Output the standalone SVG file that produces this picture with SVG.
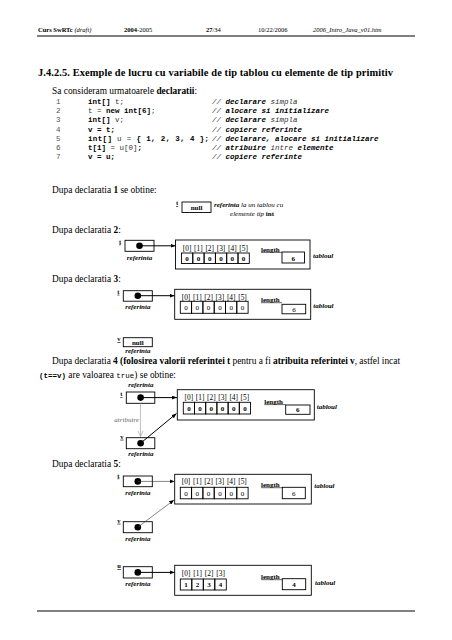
<svg xmlns="http://www.w3.org/2000/svg" width="452" height="640" viewBox="0 0 452 640">
<style>
text{font-family:"Liberation Serif","Times New Roman",serif;fill:#000}
.hd{font-size:6.5px}
.ti{font-size:10.4px;font-weight:bold}
.tx{font-size:9.4px}
.cd{font-family:"Liberation Mono","Courier New",monospace;font-size:7.5px;fill:#333}
.num{font-family:"Liberation Mono","Courier New",monospace;font-size:7.5px;fill:#555}
.b{font-weight:bold;fill:#000}
.i{font-style:italic}
.g{fill:#666}
.sm{font-size:7px}
.ix{font-size:7.4px;text-anchor:middle}
.lb{font-size:6.5px;font-weight:bold;text-decoration:underline}
.ref{font-size:7px;font-weight:bold;font-style:italic;text-anchor:middle}
.ctr{text-anchor:middle}
.box{fill:#fff;stroke:#000;stroke-width:0.9}
.cell{fill:none;stroke:#000;stroke-width:0.9}
.dot{fill:#000}
.conn{stroke:#000;stroke-width:1;fill:none}
.thin{stroke:#333;stroke-width:0.6;fill:none}
.asg{stroke:#999;stroke-width:0.6;fill:none}
</style>
<defs>
<marker id="ah" markerWidth="5" markerHeight="4" refX="5" refY="2" orient="auto" markerUnits="userSpaceOnUse">
<path d="M0,0 L5,2 L0,4 z" fill="#000"/>
</marker>
</defs>
<rect width="452" height="640" fill="#fff"/>

<g id="header">
<text class="hd" x="38" y="32"><tspan class="b">Curs SwRTc</tspan> <tspan class="i">(draft)</tspan></text>
<text class="hd" x="124" y="32"><tspan class="b">2004</tspan>-2005</text>
<text class="hd" x="206" y="32"><tspan class="b">27</tspan>/34</text>
<text class="hd" x="258" y="32">10/22/2006</text>
<text class="hd i" x="313" y="32">2006_Intro_Java_v01.htm</text>
<line x1="37" y1="36" x2="415" y2="36" stroke="#000" stroke-width="1"/>
</g>

<g id="title">
<text class="ti" x="38" y="76" textLength="355" lengthAdjust="spacing">J.4.2.5. Exemple de lucru cu variabile de tip tablou cu elemente de tip primitiv</text>
<text class="tx" x="52" y="94">Sa consideram urmatoarele <tspan class="b">declaratii</tspan>:</text>
</g>

<g id="code">
<text class="num" x="56" y="104">1</text>
<text class="num" x="56" y="113">2</text>
<text class="num" x="56" y="122">3</text>
<text class="num" x="56" y="131.5">4</text>
<text class="num" x="56" y="140.5">5</text>
<text class="num" x="56" y="149.5">6</text>
<text class="num" x="56" y="159">7</text>
<text class="cd" x="88" y="104" xml:space="preserve"><tspan class="b">int[]</tspan> t;</text>
<text class="cd" x="88" y="113" xml:space="preserve">t = <tspan class="b">new int[6]</tspan>;</text>
<text class="cd" x="88" y="122" xml:space="preserve"><tspan class="b">int[]</tspan> v;</text>
<text class="cd b" x="88" y="131.5" xml:space="preserve">v = t;</text>
<text class="cd" x="88" y="140.5" xml:space="preserve" textLength="121" lengthAdjust="spacing"><tspan class="b">int[]</tspan> u = <tspan class="b">{ 1, 2, 3, 4 };</tspan></text>
<text class="cd" x="88" y="149.5" xml:space="preserve"><tspan class="b">t[1]</tspan> = u[0]<tspan class="b">;</tspan></text>
<text class="cd b" x="88" y="159" xml:space="preserve">v = u;</text>
<text class="cd i" x="212" y="104" xml:space="preserve">// <tspan class="b">declarare</tspan> simpla</text>
<text class="cd i" x="212" y="113" xml:space="preserve">// <tspan class="b">alocare si initializare</tspan></text>
<text class="cd i" x="212" y="122" xml:space="preserve">// <tspan class="b">declarare</tspan> simpla</text>
<text class="cd i" x="212" y="131.5" xml:space="preserve">// <tspan class="b">copiere referinte</tspan></text>
<text class="cd i" x="212" y="140.5" xml:space="preserve">// <tspan class="b">declarare, alocare</tspan> <tspan class="b">si</tspan> <tspan class="b">initializare</tspan></text>
<text class="cd i" x="212" y="149.5" xml:space="preserve">// <tspan class="b">atribuire</tspan> intre <tspan class="b">elemente</tspan></text>
<text class="cd i" x="212" y="159" xml:space="preserve">// <tspan class="b">copiere referinte</tspan></text>
</g>

<g id="captions">
<text class="tx" x="52" y="193">Dupa declaratia <tspan class="b">1</tspan> se obtine:</text>
<text class="tx" x="52" y="233">Dupa declaratia <tspan class="b">2</tspan>:</text>
<text class="tx" x="52" y="282">Dupa declaratia <tspan class="b">3</tspan>:</text>
<text class="tx" x="52" y="364" textLength="348" lengthAdjust="spacing">Dupa declaratia <tspan class="b">4 (folosirea valorii referintei t</tspan> pentru a fi <tspan class="b">atribuita referintei v</tspan>, astfel incat</text>
<text class="tx" x="39" y="378"><tspan class="cd b" style="fill:#000">(t==v)</tspan> are valoarea <tspan class="cd" style="fill:#000">true</tspan>) se obtine:</text>
<text class="tx" x="52" y="467">Dupa declaratia <tspan class="b">5</tspan>:</text>
</g>

<!-- Declaratia 1 -->
<g id="d1-t">
<text class="lb" x="176" y="205">t</text>
<rect class="box" x="182" y="202" width="29" height="10.5"/>
<text class="sm b ctr" x="196.5" y="210">null</text>
<text class="sm i" x="214" y="207"><tspan class="b">referinta</tspan> la un tablou cu</text>
<text class="sm i ctr" x="252" y="215.5">elemente tip <tspan class="b" style="font-style:normal">int</tspan></text>
</g>

<!-- Declaratia 2 -->
<g id="d2-t" transform="translate(125,240.3)">
<text class="lb" x="-6" y="3.2">t</text>
<rect class="box" x="0" y="0" width="29" height="11"/>
<circle class="dot" cx="14.5" cy="5.5" r="3.3"/>
<text class="ref" x="14.5" y="19.7">referinta</text>
</g>
<g id="d2-tablou" transform="translate(175.5,240)">
<rect class="box" x="0" y="0" width="134.5" height="29"/>
<text class="ix" x="11.6" y="10.5">[0]</text><text class="ix" x="22.9" y="10.5">[1]</text><text class="ix" x="34.2" y="10.5">[2]</text><text class="ix" x="45.5" y="10.5">[3]</text><text class="ix" x="56.8" y="10.5">[4]</text><text class="ix" x="68.1" y="10.5">[5]</text>
<rect class="cell" x="6" y="13" width="11.3" height="10.5"/><rect class="cell" x="17.3" y="13" width="11.3" height="10.5"/><rect class="cell" x="28.6" y="13" width="11.3" height="10.5"/><rect class="cell" x="39.9" y="13" width="11.3" height="10.5"/><rect class="cell" x="51.2" y="13" width="11.3" height="10.5"/><rect class="cell" x="62.5" y="13" width="11.3" height="10.5"/>
<text class="sm b ctr" x="11.6" y="21">0</text><text class="sm b ctr" x="22.9" y="21">0</text><text class="sm b ctr" x="34.2" y="21">0</text><text class="sm b ctr" x="45.5" y="21">0</text><text class="sm b ctr" x="56.8" y="21">0</text><text class="sm b ctr" x="68.1" y="21">0</text>
<text class="sm b" x="85.5" y="11.5">length</text>
<line x1="85.5" y1="12.4" x2="106.5" y2="12.4" stroke="#000" stroke-width="0.6"/>
<rect class="cell" x="106.5" y="12" width="22.5" height="11"/>
<text class="sm b ctr" x="117.7" y="20.5">6</text>
<text class="ref" x="137.5" y="18" style="text-anchor:start">tabloul</text>
</g>

<!-- Declaratia 3 -->
<g id="d3-t" transform="translate(123.3,290.7)">
<text class="lb" x="-6" y="3">t</text>
<rect class="box" x="0" y="0" width="29" height="10.5"/>
<circle class="dot" cx="14.5" cy="5" r="3.3"/>
<text class="ref" x="14.5" y="18.8">referinta</text>
</g>
<g id="d3-tablou" transform="translate(174.7,289.3)">
<rect class="box" x="0" y="0" width="136" height="30"/>
<text class="ix" x="11.3" y="10.3">[0]</text><text class="ix" x="22.6" y="10.3">[1]</text><text class="ix" x="33.9" y="10.3">[2]</text><text class="ix" x="45.2" y="10.3">[3]</text><text class="ix" x="56.5" y="10.3">[4]</text><text class="ix" x="67.8" y="10.3">[5]</text>
<rect class="cell" x="5.6" y="12" width="11.3" height="12"/><rect class="cell" x="16.9" y="12" width="11.3" height="12"/><rect class="cell" x="28.2" y="12" width="11.3" height="12"/><rect class="cell" x="39.5" y="12" width="11.3" height="12"/><rect class="cell" x="50.8" y="12" width="11.3" height="12"/><rect class="cell" x="62.1" y="12" width="11.3" height="12"/>
<text class="sm ctr" x="11.3" y="21">0</text><text class="sm ctr" x="22.6" y="21">0</text><text class="sm ctr" x="33.9" y="21">0</text><text class="sm ctr" x="45.2" y="21">0</text><text class="sm ctr" x="56.5" y="21">0</text><text class="sm ctr" x="67.8" y="21">0</text>
<text class="sm b" x="86.3" y="12.5">length</text>
<line x1="86.3" y1="13.4" x2="107.3" y2="13.4" stroke="#000" stroke-width="0.6"/>
<rect class="cell" x="107.3" y="15" width="23.7" height="9.5"/>
<text class="sm ctr" x="119.2" y="22.3">6</text>
<text class="ref" x="138.6" y="18.3" style="text-anchor:start">tabloul</text>
</g>
<g id="d3-v" transform="translate(123.3,337.7)">
<text class="lb" x="-6" y="3.3">v</text>
<rect class="box" x="0" y="0" width="29" height="9"/>
<text class="sm b ctr" x="14.5" y="7">null</text>
<text class="ref" x="14.5" y="15.5">referinta</text>
</g>

<!-- Declaratia 4 -->
<g id="d4-t" transform="translate(126.3,392)">
<text class="ref" x="14.5" y="-5.5">referinta</text>
<text class="lb" x="-6" y="4">t</text>
<rect class="box" x="0" y="0" width="28.5" height="11.3"/>
<circle class="dot" cx="14.3" cy="5.6" r="3.3"/>
</g>
<g id="d4-tablou" transform="translate(177.3,389.7)">
<rect class="box" x="0" y="0" width="137" height="30.3"/>
<text class="ix" x="11.6" y="10">[0]</text><text class="ix" x="22.8" y="10">[1]</text><text class="ix" x="34" y="10">[2]</text><text class="ix" x="45.2" y="10">[3]</text><text class="ix" x="56.4" y="10">[4]</text><text class="ix" x="67.6" y="10">[5]</text>
<rect class="cell" x="6" y="12.6" width="11.2" height="11.7"/><rect class="cell" x="17.2" y="12.6" width="11.2" height="11.7"/><rect class="cell" x="28.4" y="12.6" width="11.2" height="11.7"/><rect class="cell" x="39.6" y="12.6" width="11.2" height="11.7"/><rect class="cell" x="50.8" y="12.6" width="11.2" height="11.7"/><rect class="cell" x="62" y="12.6" width="11.2" height="11.7"/>
<text class="sm b ctr" x="11.6" y="21.3">0</text><text class="sm b ctr" x="22.8" y="21.3">0</text><text class="sm b ctr" x="34" y="21.3">0</text><text class="sm b ctr" x="45.2" y="21.3">0</text><text class="sm b ctr" x="56.4" y="21.3">0</text><text class="sm b ctr" x="67.6" y="21.3">0</text>
<text class="sm b" x="87" y="14">length</text>
<line x1="87" y1="14.9" x2="108.4" y2="14.9" stroke="#000" stroke-width="0.6"/>
<rect class="cell" x="108.4" y="15.3" width="24.3" height="9.3"/>
<text class="sm b ctr" x="120.5" y="22.3">6</text>
<text class="ref" x="139.4" y="19.3" style="text-anchor:start">tabloul</text>
</g>
<g id="d4-v" transform="translate(126.3,437.7)">
<text class="lb" x="-6" y="1">v</text>
<rect class="box" x="0" y="0" width="28.5" height="11"/>
<circle class="dot" cx="14.3" cy="5.5" r="3.3"/>
<text class="ref" x="14.5" y="18.5">referinta</text>
</g>
<text class="sm i g" x="139" y="421.5" style="text-anchor:end">atribuire</text>

<!-- Declaratia 5 -->
<g id="d5-t" transform="translate(123.3,476)">
<text class="lb" x="-6" y="1.5">t</text>
<rect class="box" x="0" y="0" width="29" height="10.7"/>
<circle class="dot" cx="14.5" cy="5.4" r="3.3"/>
<text class="ref" x="14.5" y="18.5">referinta</text>
</g>
<g id="d5-tablou" transform="translate(174.7,474.3)">
<rect class="box" x="0" y="0" width="136.6" height="29.7"/>
<text class="ix" x="11.3" y="10">[0]</text><text class="ix" x="22.6" y="10">[1]</text><text class="ix" x="33.9" y="10">[2]</text><text class="ix" x="45.2" y="10">[3]</text><text class="ix" x="56.5" y="10">[4]</text><text class="ix" x="67.8" y="10">[5]</text>
<rect class="cell" x="5.6" y="13" width="11.3" height="11.5"/><rect class="cell" x="16.9" y="13" width="11.3" height="11.5"/><rect class="cell" x="28.2" y="13" width="11.3" height="11.5"/><rect class="cell" x="39.5" y="13" width="11.3" height="11.5"/><rect class="cell" x="50.8" y="13" width="11.3" height="11.5"/><rect class="cell" x="62.1" y="13" width="11.3" height="11.5"/>
<text class="sm ctr" x="11.3" y="21.6">0</text><text class="sm ctr" x="22.6" y="21.6">0</text><text class="sm ctr" x="33.9" y="21.6">0</text><text class="sm ctr" x="45.2" y="21.6">0</text><text class="sm ctr" x="56.5" y="21.6">0</text><text class="sm ctr" x="67.8" y="21.6">0</text>
<text class="sm b" x="86.3" y="12.5">length</text>
<line x1="86.3" y1="13.4" x2="107.6" y2="13.4" stroke="#000" stroke-width="0.6"/>
<rect class="cell" x="107.6" y="13" width="23" height="11.4"/>
<text class="sm ctr" x="119.1" y="21.4">6</text>
<text class="ref" x="139.6" y="13.4" style="text-anchor:start">tabloul</text>
</g>
<g id="d5-v" transform="translate(123.3,521.7)">
<text class="lb" x="-6" y="1">v</text>
<rect class="box" x="0" y="0" width="29" height="11"/>
<circle class="dot" cx="14.5" cy="5.5" r="3.3"/>
<text class="ref" x="14.5" y="19.3">referinta</text>
</g>
<g id="d5-u" transform="translate(123.3,566.7)">
<text class="lb" x="-6" y="1.6">u</text>
<rect class="box" x="0" y="0" width="29" height="11.3"/>
<circle class="dot" cx="14.5" cy="5.7" r="3.3"/>
<text class="ref" x="14.5" y="19.3">referinta</text>
</g>
<g id="d5-tablou-u" transform="translate(174.7,565.3)">
<rect class="box" x="0" y="0" width="136.6" height="30"/>
<text class="ix" x="11.4" y="10.7">[0]</text><text class="ix" x="22.9" y="10.7">[1]</text><text class="ix" x="34.4" y="10.7">[2]</text><text class="ix" x="45.9" y="10.7">[3]</text>
<rect class="cell" x="5.6" y="13.7" width="11.5" height="11"/><rect class="cell" x="17.1" y="13.7" width="11.5" height="11"/><rect class="cell" x="28.6" y="13.7" width="11.5" height="11"/><rect class="cell" x="40.1" y="13.7" width="11.5" height="11"/>
<text class="sm b ctr" x="11.4" y="22">1</text><text class="sm b ctr" x="22.9" y="22">2</text><text class="sm b ctr" x="34.4" y="22">3</text><text class="sm b ctr" x="45.9" y="22">4</text>
<text class="sm b" x="86.3" y="13.5">length</text>
<line x1="86.3" y1="14.4" x2="107.6" y2="14.4" stroke="#000" stroke-width="0.6"/>
<rect class="cell" x="107.6" y="13.4" width="23.4" height="11"/>
<text class="sm b ctr" x="119.3" y="21.8">4</text>
<text class="ref" x="140.3" y="19.7" style="text-anchor:start">tabloul</text>
</g>

<g id="connectors">
<line class="conn" x1="139.5" y1="245.8" x2="175.5" y2="245.8" marker-end="url(#ah)"/>
<line class="conn" x1="137.8" y1="295.7" x2="174.5" y2="295.7" marker-end="url(#ah)"/>
<line class="conn" x1="140.6" y1="397.6" x2="177" y2="397.6" marker-end="url(#ah)"/>
<line class="asg" x1="140.5" y1="403.5" x2="140.5" y2="436.5"/>
<polyline class="asg" points="138,431 140.5,436.5 143,431"/>
<line class="conn" x1="140.6" y1="443.2" x2="176.5" y2="413.5" marker-end="url(#ah)"/>
<line class="thin" x1="137.8" y1="481.4" x2="174.5" y2="481.4" marker-end="url(#ah)"/>
<line class="thin" x1="137.8" y1="527.2" x2="174" y2="500" marker-end="url(#ah)"/>
<line class="conn" x1="137.8" y1="572.4" x2="174.5" y2="572.4" marker-end="url(#ah)"/>
</g>

<line x1="37" y1="611" x2="415" y2="611" stroke="#000" stroke-width="1"/>
</svg>
